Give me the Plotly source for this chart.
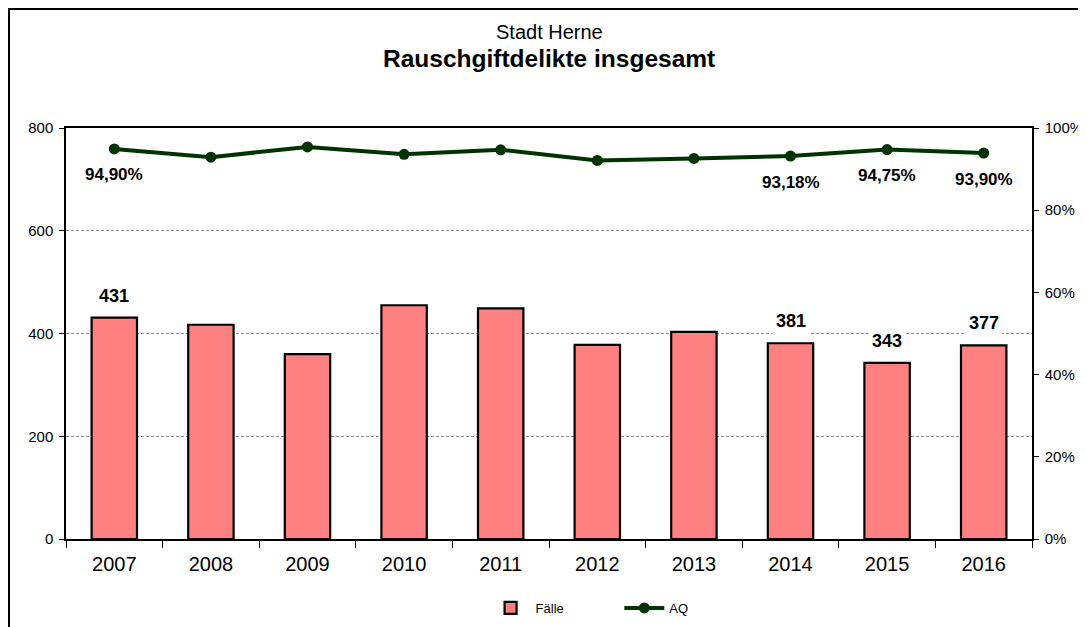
import plotly.graph_objects as go

years = ["2007", "2008", "2009", "2010", "2011", "2012", "2013", "2014", "2015", "2016"]
faelle = [431, 417, 360, 455, 449, 378, 403, 381, 343, 377]
aq = [0.9490, 0.9290, 0.9540, 0.9360, 0.9470, 0.9210, 0.9260, 0.9318, 0.9475, 0.9390]
labeled = ["2007", "2014", "2015", "2016"]

FONT = "Liberation Sans, Arial, sans-serif"
NBSP = "\u00a0"

fig = go.Figure()
fig.add_trace(go.Bar(
    x=years, y=faelle, name="Fälle" + NBSP * 14,
    marker=dict(color="#FF8080", line=dict(color="black", width=2.2)),
    width=0.47, yaxis="y",
))
fig.add_trace(go.Scatter(
    x=years, y=aq, name="AQ", mode="lines+markers", yaxis="y2",
    line=dict(color="#003300", width=4),
    marker=dict(color="#003300", size=11),
))

ann = []
for i, (yr, v, p) in enumerate(zip(years, faelle, aq)):
    if yr in labeled:
        ann.append(dict(x=i, y=v, xref="x", yref="y", text=f"{v}", showarrow=False,
                        yshift=22, bgcolor="white", borderpad=3,
                        font=dict(family=FONT, size=18, color="black", weight="bold")))
        ann.append(dict(x=i, y=p, xref="x", yref="y2",
                        text=f"{p*100:.2f}%".replace(".", ","), showarrow=False,
                        yshift=-26, font=dict(family=FONT, size=17, color="black", weight="bold")))

ann.append(dict(x=0.5, y=(539-32)/411, xref="paper", yref="paper", yanchor="middle", showarrow=False,
                text="Stadt Herne", font=dict(family=FONT, size=20, color="black")))
ann.append(dict(x=0.5, y=(539-58)/411, xref="paper", yref="paper", yanchor="middle", showarrow=False,
                text="<b>Rauschgiftdelikte insgesamt</b>", font=dict(family=FONT, size=24.5, color="black")))

# page body has an 8px margin; compensate so the plot area lands at x 66..1032, y 128..539
fig.update_layout(
    width=1086, height=627,
    margin=dict(l=58, r=62, t=120, b=96),
    paper_bgcolor="white", plot_bgcolor="white",
    separators=",.",
    font=dict(family=FONT, size=15, color="black"),
    showlegend=True,
    legend=dict(orientation="h", x=0.542, xanchor="center", y=(539-608)/411, yanchor="middle",
                font=dict(family=FONT, size=13), itemwidth=40,
                bgcolor="rgba(0,0,0,0)"),
    xaxis=dict(type="category", range=[-0.5, len(years) - 0.5],
               showline=True, linecolor="black", linewidth=1.5, mirror=True,
               ticks="outside", tickson="boundaries", ticklen=7, tickcolor="black",
               tickfont=dict(size=20), tickangle=0, showgrid=False, ticklabelstandoff=6),
    yaxis=dict(range=[0, 800], dtick=200, showline=True, linecolor="black", linewidth=1.5,
               ticks="outside", ticklen=5, tickcolor="black", tickfont=dict(size=15),
               showgrid=True, gridcolor="#909090", gridwidth=1, griddash="3px,2px",
               zeroline=False, ticklabelstandoff=3),
    yaxis2=dict(range=[0, 1], dtick=0.2, tickformat=".0%", overlaying="y", side="right",
                showline=True, linecolor="black", linewidth=1.5, ticks="outside", ticklen=5,
                tickcolor="black", showgrid=False, zeroline=False, tickfont=dict(size=15),
                ticklabelstandoff=3),
    annotations=ann,
    shapes=[dict(type="rect", xref="paper", yref="paper",
                 x0=(1 - 58) / 966, x1=(1100 - 58) / 966, y0=-0.4, y1=1 + (120 - 1) / 411,
                 line=dict(color="black", width=2), fillcolor="rgba(0,0,0,0)", layer="above")],
)

fig.write_html("out.html")
